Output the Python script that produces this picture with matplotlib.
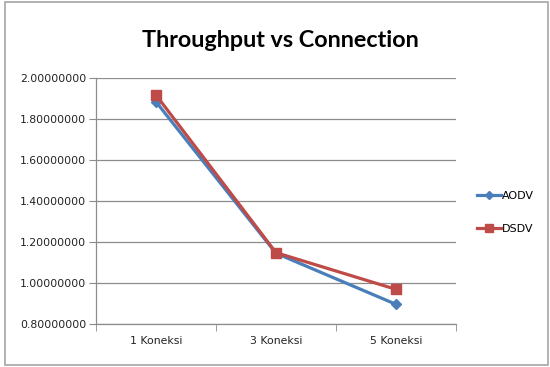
import matplotlib
matplotlib.use('Agg')
import matplotlib.pyplot as plt
from matplotlib.patches import Rectangle
from matplotlib.ticker import FixedLocator, FormatStrFormatter

# throughput per scenario
categories = ['1 Koneksi', '3 Koneksi', '5 Koneksi']
aodv = [1.884, 1.145, 0.896]
dsdv = [1.917, 1.148, 0.969]

fig = plt.figure(figsize=(5.5, 3.67), dpi=100)
ax = fig.add_axes([0.1745, 0.1172, 0.6545, 0.6703])

# chart area border
fig.patches.append(Rectangle((0.009, 0.005), 0.988, 0.99, transform=fig.transFigure,
                             fill=False, edgecolor='#a6a6a6', linewidth=1.2))

x = range(len(categories))
ax.plot(x, aodv, color='#4a7ebb', linewidth=2.3, marker='D', markersize=5.5,
        label='AODV', zorder=3)
ax.plot(x, dsdv, color='#be4b48', linewidth=2.3, marker='s', markersize=7,
        label='DSDV', zorder=4)

ax.set_xlim(-0.5, 2.5)
ax.set_ylim(0.8, 2.0)
ax.set_yticks([0.8, 1.0, 1.2, 1.4, 1.6, 1.8, 2.0])
ax.yaxis.set_major_formatter(FormatStrFormatter('%.8f'))
ax.set_xticks(list(x))
ax.set_xticklabels(categories)
ax.xaxis.set_minor_locator(FixedLocator([-0.5, 0.5, 1.5, 2.5]))

ax.tick_params(axis='x', which='major', length=0, pad=9, labelsize=7.8, labelcolor='#222222')
ax.tick_params(axis='x', which='minor', length=5, color='#8c8c8c', direction='out')
ax.tick_params(axis='y', length=5, color='#8c8c8c', pad=2, labelsize=7.8, labelcolor='#222222')

ax.grid(axis='y', color='#8c8c8c', linewidth=0.9)
ax.set_axisbelow(True)
for side in ['top', 'right']:
    ax.spines[side].set_visible(False)
for side in ['left', 'bottom']:
    ax.spines[side].set_color('#8c8c8c')
    ax.spines[side].set_linewidth(0.9)

fig.text(0.51, 0.89, 'Throughput vs Connection', ha='center', va='center',
         fontsize=16.8, fontweight='bold', family='Lato')

ax.legend(loc='center left', bbox_to_anchor=(1.03, 0.453), frameon=False,
          fontsize=8, handlelength=2.2, handletextpad=0.1, labelspacing=2.05,
          markerscale=0.8)

fig.savefig('out.png', dpi=100)
